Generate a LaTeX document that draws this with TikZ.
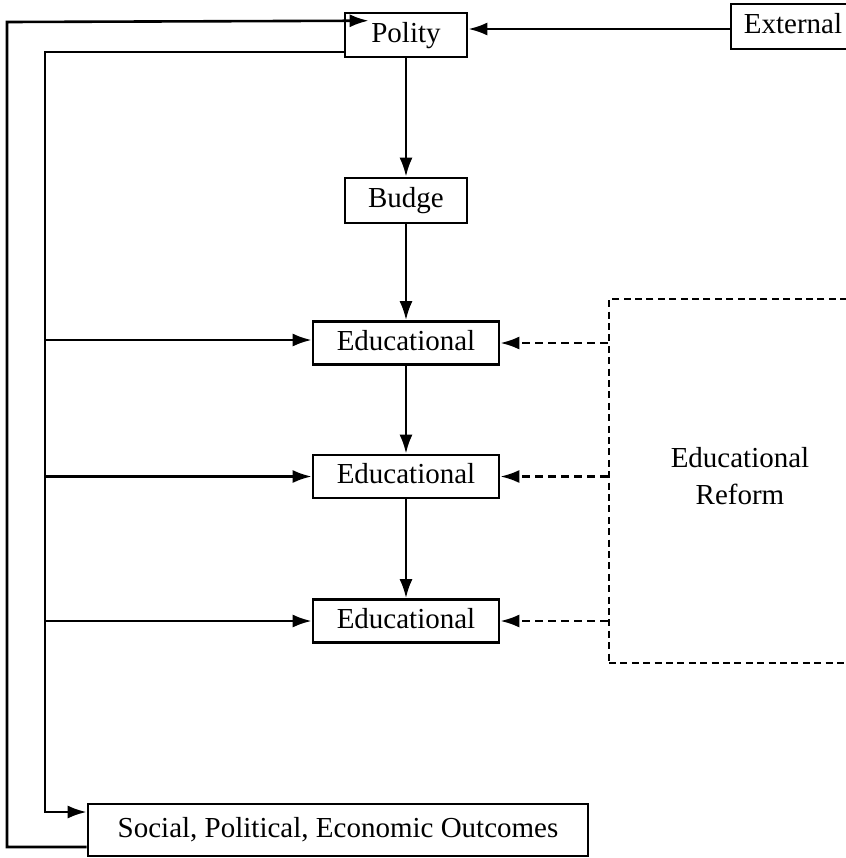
\documentclass[tikz,border=0pt]{standalone}
\usepackage{fontspec}
\setmainfont{Liberation Serif}
\usetikzlibrary{arrows.meta,positioning}

\begin{document}
\begin{tikzpicture}[
    x = 0.5pt, y = -0.5pt, % work on the pixel grid
    > = {Latex[length=9.5pt,width=6.5pt]}, % arrow head style
    line width = 1.3pt, % line style
    font = \fontsize{14.5}{18.5}\selectfont
    ]

    \tikzset{
    box/.style = {
        draw = black,
        line width = 1.3pt,
        inner sep = 0pt,
        text height = 10pt,
        text depth = 3pt
        },
    edu/.style = {box, minimum width = 93pt, minimum height = 21.5pt},
    dbox/.style = {box, dash pattern = on 3.5pt off 2.2pt},
    dline/.style = {->, dash pattern = on 4pt off 2.5pt}
    }

    \useasboundingbox (0,0) rectangle (846,858);

    \node[box, minimum width = 61pt, minimum height = 22pt] (polity) at (406,35) {Polity};
    \node[box, minimum width = 62pt, minimum height = 22.5pt] (ext) at (793,26.5) {External};
    \node[box, minimum width = 61pt, minimum height = 22.5pt] (budge) at (406,200.5) {Budge};
    \node[edu] (ed1) at (406,343) {Educational};
    \node[edu] (ed2) at (406,476.5) {Educational};
    \node[edu] (ed3) at (406,621) {Educational};
    \node[dbox, minimum width = 131pt, minimum height = 182pt] (reform) at (740,481) {};
    \node[align = center, inner sep = 0pt] (reformtxt) at (740,476) {Educational\\Reform};
    \node[box, minimum width = 250pt, minimum height = 26pt] (outc) at (338,830)
        {Social, Political, Economic Outcomes};

    \coordinate (bus) at (45,0);
    \coordinate (in) at ([shift={(12.5pt,-4.5pt)}]polity.north west);

    % main chain
    \draw[->] ([yshift=-1.25pt]ext.west) -- ([yshift=-1.25pt]ext.west -| polity.east);
    \draw[->] (polity) -- (budge);
    \draw[->] (budge) -- (ed1);
    \draw[->] (ed1) -- (ed2);
    \draw[->] (ed2) -- (ed3);

    % reform inputs
    \foreach \n in {ed1,ed2,ed3}
        \draw[dline] (reform.west |- \n) -- (\n.east);

    % feedback from the polity
    \draw[->] ([yshift=-8.5pt]polity.west) -| (45,812) -- ([yshift=9pt]outc.west);
    \draw[->] (bus |- ed1.west) ++(0,-3) -- ([yshift=1.5pt]ed1.west);
    \draw[->] (bus |- ed2.west) -- (ed2.west);
    \draw[->] (bus |- ed3.west) -- (ed3.west);

    % feedback from the outcomes
    \draw[->] ([yshift=-8.5pt]outc.west) -| (7,22) -- (in);
\end{tikzpicture}
\end{document}
